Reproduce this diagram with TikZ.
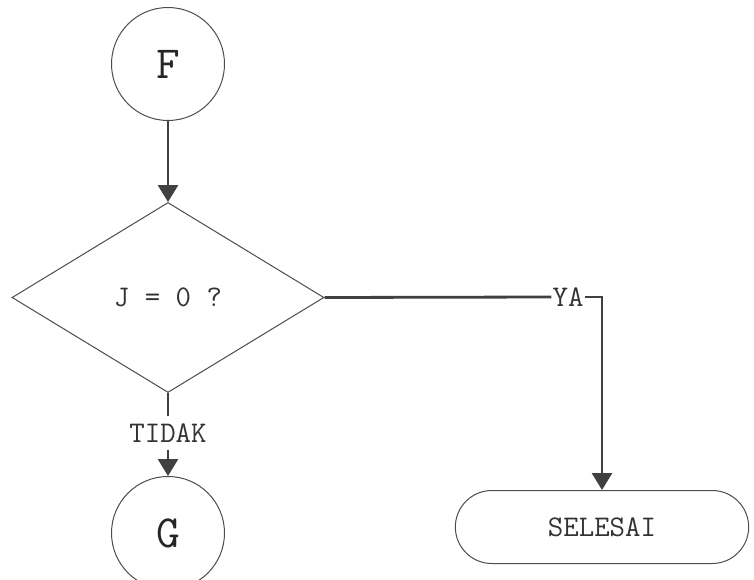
\documentclass[tikz,border=0pt]{standalone}
\usetikzlibrary{shapes.geometric,shapes.misc,arrows.meta}
\begin{document}
\begin{tikzpicture}[x=1pt,y=-1pt,
  shapeline/.style={draw=black!70,line width=1pt},
  conn/.style={draw=black!75,line width=2.8pt},
  arr/.style={conn,-{Triangle[width=20pt,length=17pt]}},
  lbl/.style={font=\ttfamily\fontsize{30}{30}\selectfont,text=black!80},
  big/.style={font=\ttfamily\fontsize{46}{46}\selectfont,text=black!85},
  conncircle/.style={shapeline,circle,minimum size=113pt,inner sep=0pt}]
\useasboundingbox (0,0) rectangle (754,580);
\node[conncircle,big] (f) at (168,64) {F};
\node[shapeline,diamond,minimum width=312pt,minimum height=190pt,inner sep=0pt,lbl] (d) at (168,297.5) {J = 0 ?};
\node[conncircle,big] (g) at (168,533) {G};
\node[shapeline,rounded rectangle,minimum width=300pt,minimum height=73pt,lbl] (s) at (602,527) {SELESAI};
\node[lbl,inner xsep=1pt,inner ysep=0pt] (ya) at (568,297) {YA};
\node[lbl,inner xsep=2pt,inner ysep=7pt] (tidak) at (168,433) {TIDAK};
\draw[arr] (f.south) -- (d.north);
\draw[conn] (d.east) -- (ya.west);
\draw[arr] (ya.east) -| (s.north);
\draw[conn] (d.south) -- (tidak.north);
\draw[arr] (tidak.south) -- (g.north);
\end{tikzpicture}
\end{document}
